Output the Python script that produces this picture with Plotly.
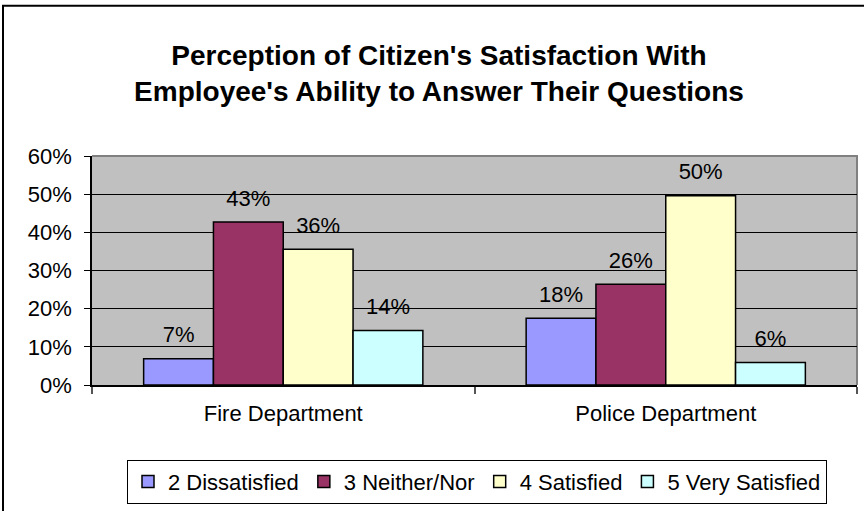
import plotly.graph_objects as go

categories = ["Fire Department", "Police Department"]
series_names = ["2 Dissatisfied", "3 Neither/Nor", "4 Satisfied", "5 Very Satisfied"]
dissatisfied = [0.069, 0.175]
neither = [0.427, 0.264]
satisfied = [0.356, 0.496]
very_satisfied = [0.143, 0.059]
colors = ["#9999FF", "#993366", "#FFFFCC", "#CCFFFF"]
y_ticks = [0, 0.1, 0.2, 0.3, 0.4, 0.5, 0.6]
y_tick_labels = ["0%", "10%", "20%", "30%", "40%", "50%", "60%"]

FONT = "Arial, Liberation Sans, sans-serif"

fig = go.Figure()
all_series = [dissatisfied, neither, satisfied, very_satisfied]
for i, (name, vals, col) in enumerate(zip(series_names, all_series, colors)):
    fig.add_trace(go.Bar(
        x=categories, y=vals, name=name, offsetgroup=str(i),
        marker=dict(color=col, line=dict(color="black", width=1.5)),
        hoverinfo="skip",
    ))
for i, vals in enumerate(all_series):
    fig.add_trace(go.Scatter(
        x=categories, y=vals, offsetgroup=str(i), mode="markers+text",
        marker=dict(size=16, opacity=0),
        text=[f"{round(v * 100)}%" for v in vals], textposition="top center",
        textfont=dict(family=FONT, size=22, color="black"),
        showlegend=False, hoverinfo="skip", cliponaxis=False,
    ))

W, H = 864, 511
L, R, T, B = 92, 7, 156, 122
pw, ph = W - L - R, H - T - B

def px2x(px):
    return (px - L) / pw

def py2y(py):
    return (H - B - py) / ph

fig.update_layout(
    width=W, height=H,
    margin=dict(l=L, r=R, t=T, b=B),
    paper_bgcolor="white", plot_bgcolor="#C0C0C0",
    barmode="group", bargap=0.27, bargroupgap=0,
    scattermode="group", scattergap=0.27,
    font=dict(family=FONT, size=22, color="black"),
    title=dict(
        text="Perception of Citizen's Satisfaction With<br>Employee's Ability to Answer Their Questions",
        font=dict(family=FONT, size=28, color="black", weight="bold"),
        x=439 / W, xref="container", xanchor="center", y=1 - 65 / H, yanchor="middle",
    ),
    showlegend=True,
    legend=dict(
        orientation="h", x=px2x(477), xanchor="center", y=py2y(465), yanchor="top",
        bordercolor="black", borderwidth=1, bgcolor="white",
        font=dict(family=FONT, size=22, color="black"),
        itemwidth=30, tracegroupgap=0,
    ),
    xaxis=dict(
        showline=True, linecolor="black", linewidth=1.5,
        ticks="outside", ticklen=7, tickcolor="#555555", tickwidth=2,
        tickson="boundaries", showgrid=False, ticklabelstandoff=8,
        tickfont=dict(family=FONT, size=22, color="black"),
    ),
    yaxis=dict(
        range=[0, 0.6], tickvals=y_ticks, ticktext=y_tick_labels,
        showline=True, linecolor="black", linewidth=1.5,
        ticks="outside", ticklen=6, tickcolor="black",
        showgrid=True, gridcolor="black", gridwidth=1,
        zeroline=False, ticklabelstandoff=8,
        tickfont=dict(family=FONT, size=22, color="black"),
    ),
    shapes=[
        dict(type="path", xref="paper", yref="paper",
             path="M 0,1 L 1,1 L 1,0", line=dict(color="#808080", width=2), layer="below"),
        dict(type="rect", xref="paper", yref="paper",
             x0=px2x(3), x1=px2x(875), y0=py2y(520), y1=py2y(3),
             line=dict(color="black", width=2), fillcolor="rgba(0,0,0,0)", layer="below"),
    ],
)

fig.write_html("out.html", config={"displayModeBar": False},
               post_script="document.body.style.margin='0px';")
